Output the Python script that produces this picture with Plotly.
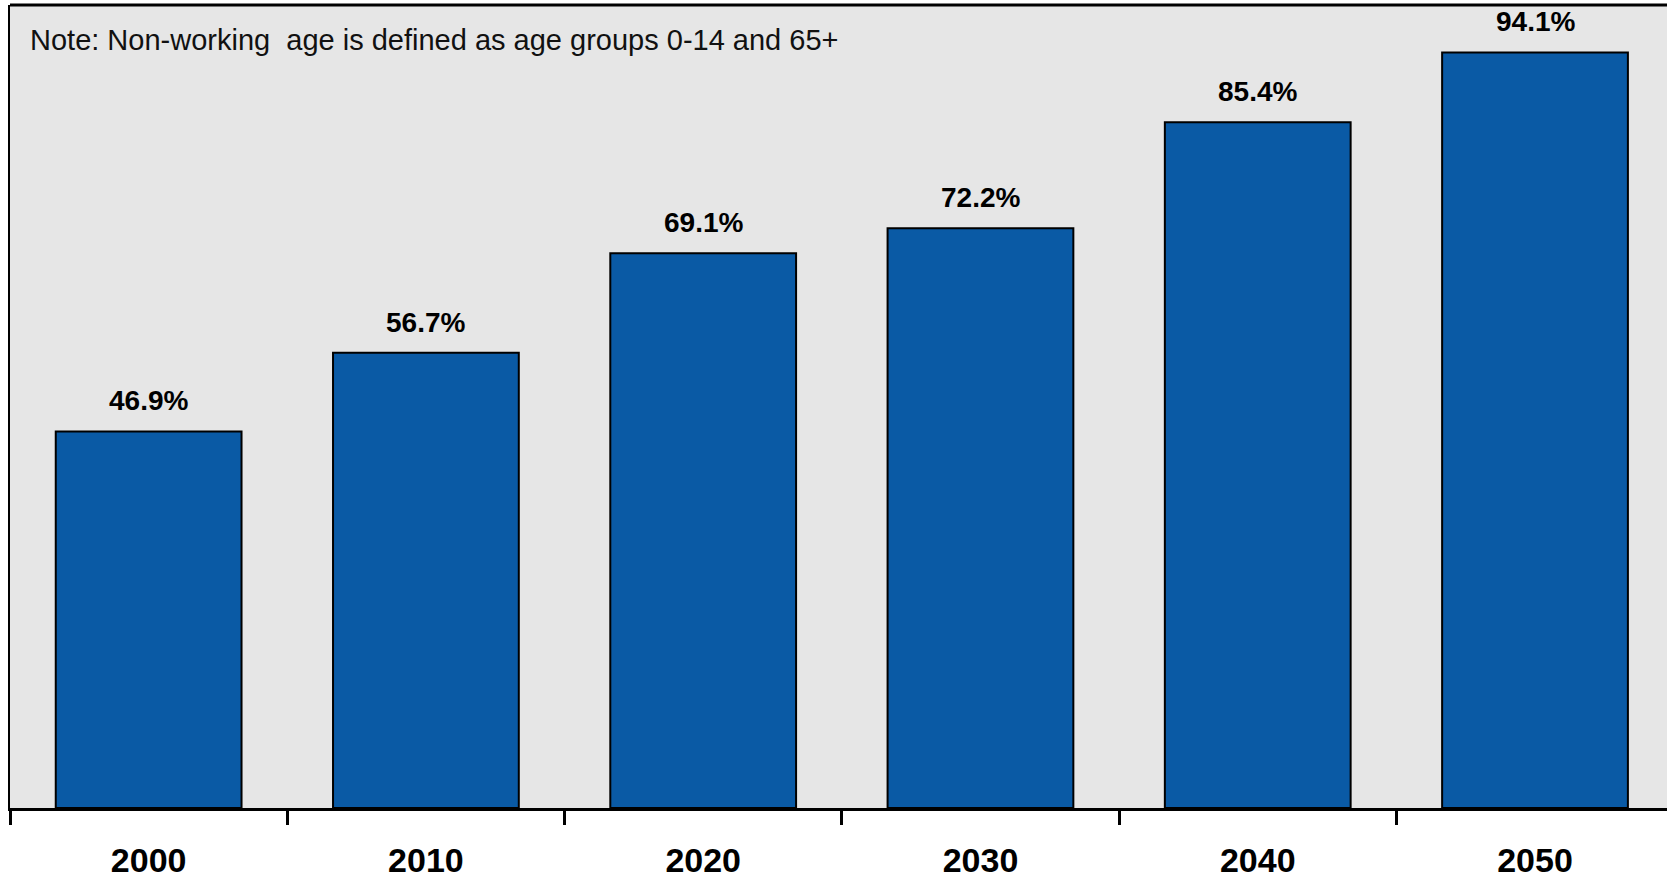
import plotly.graph_objects as go

# Non-working age population as a share of working-age population
years = ["2000", "2010", "2020", "2030", "2040", "2050"]
ratio_pct = [46.9, 56.7, 69.1, 72.2, 85.4, 94.1]
note_text = "Note: Non-working\u00a0 age is defined as age groups 0-14 and 65+"

BAR_BLUE = "#0A5AA5"
PANEL_GREY = "#E6E6E6"
BOLD_FONT = "Liberation Sans, Arial, sans-serif"
REGULAR = "Liberation Sans, Arial, sans-serif"

fig = go.Figure()
fig.add_trace(
    go.Bar(
        x=years,
        y=ratio_pct,
        width=0.67,
        marker=dict(color=BAR_BLUE, line=dict(color="black", width=2)),
        hoverinfo="skip",
    )
)

# Value labels above each bar (category axis: position by category index)
for i, v in enumerate(ratio_pct):
    fig.add_annotation(
        x=i, y=v, xref="x", yref="y",
        text=f"<b>{v:.1f}%</b>",
        showarrow=False,
        xanchor="center", yanchor="bottom",
        yshift=13,
        font=dict(family=BOLD_FONT, size=28, color="black"),
    )

# Footnote inside the panel
fig.add_annotation(
    x=0, y=1, xref="paper", yref="paper",
    xanchor="left", yanchor="top",
    xshift=18, yshift=-17,
    text=note_text, showarrow=False,
    font=dict(family=REGULAR, size=29, color="#111111"),
)

# Top border of the panel
fig.add_shape(
    type="line", xref="paper", yref="paper",
    x0=0, x1=1, y0=1, y1=1,
    line=dict(color="black", width=3),
)

fig.update_layout(
    width=1667,
    height=880,
    margin=dict(l=10, r=0, t=5, b=72, pad=0),
    paper_bgcolor="white",
    plot_bgcolor=PANEL_GREY,
    showlegend=False,
    bargap=0.33,
)

fig.update_xaxes(
    type="category",
    range=[-0.5, 5.476],
    showline=True, linecolor="black", linewidth=3,
    ticks="outside", tickson="boundaries", ticklen=14, tickwidth=3, tickcolor="black",
    tickfont=dict(family=BOLD_FONT, size=34, color="black"),
    tickprefix="<b>", ticksuffix="</b>",
    ticklabelstandoff=20,
    showgrid=False, zeroline=False,
)
fig.update_yaxes(
    range=[0, 100],
    showline=True, linecolor="black", linewidth=2,
    showticklabels=False, ticks="",
    showgrid=False, zeroline=False,
)

fig.write_html("out.html")
